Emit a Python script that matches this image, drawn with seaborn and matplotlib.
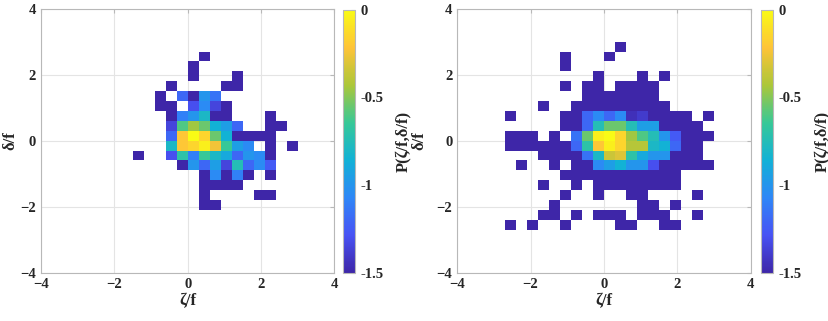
import numpy as np
import pandas as pd
import seaborn as sns
import matplotlib.pyplot as plt
from matplotlib.colors import LinearSegmentedColormap, LogNorm, Normalize
from matplotlib.cm import ScalarMappable

n = np.nan
D = -1.5  # lowest colour level (clipped)

bin_width = 0.3

# left panel: bin columns i = -5..9, rows j = 8..-7 (bin i spans [0.3i, 0.3(i+1)])
left_cols = np.arange(-5, 10)
left_rows = np.arange(8, -8, -1)
left_logp = [
    [n, n, n, n, n, n, D, n, n, n, n, n, n, n, n],
    [n, n, n, n, n, D, n, n, n, n, n, n, n, n, n],
    [n, n, n, n, n, D, n, n, n, D, n, n, n, n, n],
    [n, n, n, D, n, n, n, n, D, D, n, n, n, n, n],
    [n, n, D, n, -1.2, D, -1.0, -1.15, n, n, n, n, n, n, n],
    [n, n, D, D, n, -1.3, -1.05, -1.35, D, n, n, n, n, n, n],
    [n, n, n, D, -1.1, -1.0, -0.8, D, D, n, n, n, D, n, n],
    [n, n, n, -1.35, -0.6, -0.45, -0.55, -0.85, -0.95, -1.2, n, n, D, D, n],
    [n, n, n, -1.2, -0.2, 0.0, -0.15, -0.55, -0.85, D, D, D, D, n, n],
    [n, n, n, -0.8, -0.2, -0.15, -0.05, -0.25, -0.65, -0.95, -1.05, n, D, n, D],
    [D, n, n, -1.3, -0.7, -1.1, -0.65, -0.8, -0.9, -1.2, -1.0, -1.05, D, n, n],
    [n, n, n, n, D, -1.0, -1.2, -0.95, -1.35, -0.75, -1.2, -1.05, -1.25, n, n],
    [n, n, n, n, n, n, D, -1.05, D, -1.1, D, n, D, n, n],
    [n, n, n, n, n, n, D, D, D, D, n, n, n, n, n],
    [n, n, n, n, n, n, D, n, n, n, n, D, D, n, n],
    [n, n, n, n, n, n, D, D, n, n, n, n, n, n, n],
]

# right panel: bin columns i = -9..9, rows j = 9..-9
right_cols = np.arange(-9, 10)
right_rows = np.arange(9, -10, -1)
right_logp = [
    [n, n, n, n, n, n, n, n, n, n, D, n, n, n, n, n, n, n, n],
    [n, n, n, n, n, D, n, n, n, D, n, n, n, n, n, n, n, n, n],
    [n, n, n, n, n, D, n, n, n, n, n, n, n, n, n, n, n, n, n],
    [n, n, n, n, n, n, n, n, D, n, n, n, D, n, D, n, n, n, n],
    [n, n, n, n, n, D, n, D, D, n, D, D, D, D, n, n, n, n, n],
    [n, n, n, n, n, n, n, D, D, D, D, D, D, D, n, n, n, n, n],
    [n, n, n, D, n, n, D, D, D, D, D, D, D, D, D, n, n, n, n],
    [D, n, n, n, n, D, D, -1.2, -1.05, -1.2, -1.05, -1.45, -1.4, D, D, D, D, n, D],
    [n, n, n, n, n, D, D, -1.2, -0.75, -0.55, -0.55, -0.75, -0.95, -0.95, D, D, D, D, n],
    [D, D, D, n, D, n, -1.15, -0.55, -0.05, 0.0, -0.15, -0.45, -0.6, -0.75, -1.0, -1.25, D, D, D],
    [D, D, D, D, D, D, -1.2, -0.7, -0.2, -0.05, -0.15, -0.4, -0.4, -0.8, -0.85, -1.2, D, D, n],
    [n, n, n, D, D, D, D, -1.15, -0.8, -0.35, -0.3, -0.7, -0.9, -1.0, -1.0, D, D, D, n],
    [n, D, n, n, D, n, D, D, -1.05, -0.95, -0.85, -1.0, -1.0, -1.3, D, D, D, D, D],
    [n, n, n, n, n, D, D, D, D, D, D, D, D, D, D, D, n, n, n],
    [n, n, n, D, n, n, D, n, D, D, D, D, D, D, D, D, n, n, n],
    [n, n, n, n, n, D, n, n, D, n, n, D, D, n, n, n, n, D, n],
    [n, n, n, n, D, n, n, n, n, n, n, n, D, D, n, D, n, n, n],
    [n, n, n, D, D, n, D, n, D, D, D, n, D, D, D, n, n, D, n],
    [D, n, D, n, n, D, n, n, n, n, D, D, n, n, D, D, n, n, n],
]

axis_ticks = [-4, -2, 0, 2, 4]
cbar_ticks = [0, -0.5, -1, -1.5]

# approximate MATLAB parula
parula = LinearSegmentedColormap.from_list("parula", [
    (0.2422, 0.1504, 0.6603), (0.2810, 0.3228, 0.9579),
    (0.1786, 0.5289, 0.9682), (0.0689, 0.6948, 0.8394),
    (0.2161, 0.7843, 0.5923), (0.6720, 0.7793, 0.2227),
    (0.9970, 0.7659, 0.2199), (0.9769, 0.9839, 0.0805)])


def to_frame(cols, rows, grid):
    arr = np.array(grid, dtype=float)
    jj, ii = np.meshgrid(rows, cols, indexing="ij")
    df = pd.DataFrame({"zeta": (ii.ravel() + 0.5) * bin_width,
                       "delta": (jj.ravel() + 0.5) * bin_width,
                       "logp": arr.ravel()}).dropna()
    df["p"] = 10 ** df["logp"]
    return df


sns.set_style("white")
plt.rcParams["font.family"] = ["Liberation Serif", "DejaVu Serif"]
plt.rcParams["font.weight"] = "bold"

edges = list(np.arange(-14, 15) * bin_width)
gray = "#b8b8b8"

fig = plt.figure(figsize=(8.29, 3.21), dpi=100)
panels = [
    (to_frame(left_cols, left_rows, left_logp), [0.0495, 0.1505, 0.3538, 0.8224],
     [0.4134, 0.1505, 0.0150, 0.8190], -0.078),
    (to_frame(right_cols, right_rows, right_logp), [0.5516, 0.1505, 0.3538, 0.8224],
     [0.9176, 0.1505, 0.0152, 0.8190], -0.103),
]

for df, ax_rect, cb_rect, ylab_x in panels:
    ax = fig.add_axes(ax_rect)
    cax = fig.add_axes(cb_rect)
    sns.histplot(data=df, x="zeta", y="delta", weights="p", bins=(edges, edges),
                 cmap=parula, vmin=10 ** -1.5, vmax=1, cbar=False, ax=ax)
    ax.collections[-1].set_norm(LogNorm(vmin=10 ** -1.5, vmax=1))

    ax.set_xlim(-4, 4)
    ax.set_ylim(-4, 4)
    ax.set_xticks(axis_ticks)
    ax.set_yticks(axis_ticks)
    ax.set_axisbelow(True)
    ax.grid(True, color="#e4e4e4", linewidth=0.8)
    ax.tick_params(direction="in", length=3, color=gray, labelsize=10.5,
                   top=True, right=True)
    for s in ax.spines.values():
        s.set_color(gray)
        s.set_linewidth(0.8)
    ax.set_xlabel("ζ/f", fontsize=12, fontweight="bold", labelpad=2)
    ax.set_ylabel("δ/f", fontsize=12, fontweight="bold")
    ax.yaxis.set_label_coords(ylab_x, 0.5)

    cb = fig.colorbar(ScalarMappable(norm=Normalize(-1.5, 0), cmap=parula), cax=cax)
    cb.set_ticks(cbar_ticks)
    cb.set_ticklabels(["0", "-0.5", "-1", "-1.5"])
    cb.ax.tick_params(direction="in", length=3, color=gray, labelsize=10.5)
    cb.outline.set_edgecolor(gray)
    cb.outline.set_linewidth(0.8)
    cb.set_label("P(ζ/f,δ/f)", fontsize=12, fontweight="bold", labelpad=9)

fig.savefig("out.png", dpi=100)
